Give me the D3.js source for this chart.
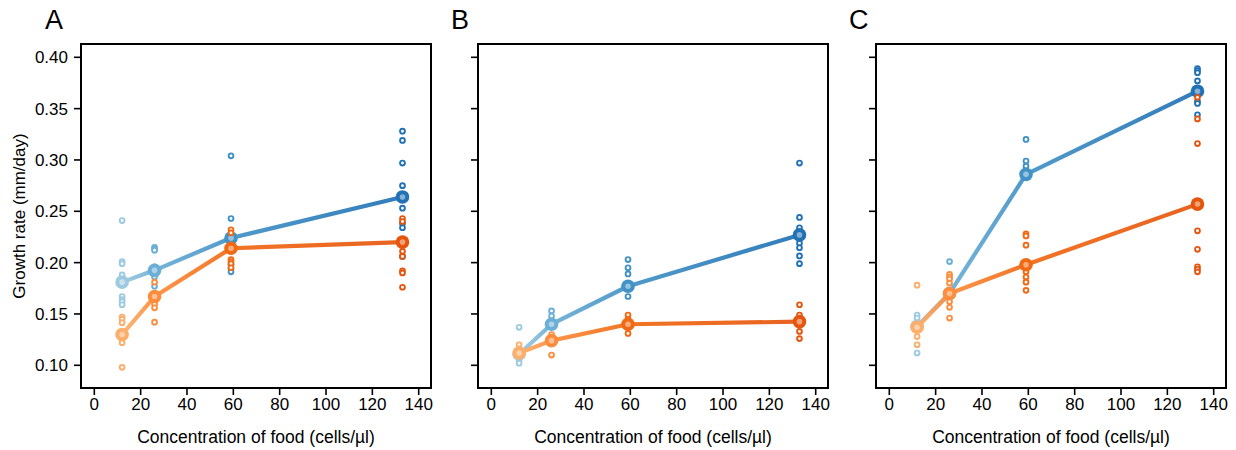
<!DOCTYPE html>
<html>
<head>
<meta charset="utf-8">
<script src="https://cdn.jsdelivr.net/npm/d3@7"></script>
<style>
  body { margin: 0; background: #fff; }
  text { font-family: "Liberation Sans", Arial, sans-serif; fill: #000; }
</style>
</head>
<body>
<div id="chart"></div>
<script>

// food concentrations (cells/ul)
var conc = [12, 26, 59, 133];

var panelNames = ["A", "B", "C"];

// individual growth rates, one list per concentration
var blueA = [[0.241, 0.201, 0.199, 0.188, 0.167, 0.164, 0.162, 0.159], [0.215, 0.2135, 0.212, 0.196, 0.186, 0.177], [0.304, 0.243, 0.198, 0.1945, 0.191], [0.328, 0.319, 0.297, 0.275, 0.253, 0.238, 0.234, 0.206]];
var orangeA = [[0.147, 0.145, 0.1415, 0.122, 0.098], [0.181, 0.162, 0.1597, 0.156, 0.142], [0.232, 0.229, 0.203, 0.201, 0.199, 0.195], [0.243, 0.240, 0.211, 0.206, 0.192, 0.190, 0.176]];
var blueMeanA = [0.181, 0.1925, 0.224, 0.264];
var orangeMeanA = [0.130, 0.167, 0.214, 0.220];

var blueB = [[0.137, 0.105, 0.102], [0.153, 0.148], [0.203, 0.195, 0.189, 0.167], [0.297, 0.244, 0.234, 0.230, 0.219, 0.2145, 0.2065, 0.199]];
var orangeB = [[0.120, 0.116], [0.130, 0.110], [0.149, 0.145, 0.137, 0.131], [0.159, 0.149, 0.133, 0.126]];
var blueMeanB = [0.111, 0.140, 0.177, 0.227];
var orangeMeanB = [0.112, 0.124, 0.140, 0.1425];

var blueC = [[0.149, 0.146, 0.112], [0.201, 0.172], [0.320, 0.299, 0.294], [0.389, 0.387, 0.385, 0.377, 0.357, 0.355, 0.344]];
var orangeC = [[0.178, 0.128, 0.120], [0.1886, 0.186, 0.184, 0.180, 0.167, 0.162, 0.1565, 0.146], [0.228, 0.226, 0.217, 0.191, 0.186, 0.181, 0.173], [0.361, 0.340, 0.316, 0.231, 0.213, 0.196, 0.1935, 0.191]];
var blueMeanC = [0.138, 0.170, 0.286, 0.367];
var orangeMeanC = [0.137, 0.170, 0.198, 0.257];

var xTicks = [0, 20, 40, 60, 80, 100, 120, 140];
var yTicks = [0.10, 0.15, 0.20, 0.25, 0.30, 0.35, 0.40];

var xTitle = "Concentration of food (cells/µl)";
var yTitle = "Growth rate (mm/day)";

// colour per concentration, light -> dark
var blues = ['#9ecae1', '#6baed6', '#4292c6', '#2171b5'];
var oranges = ['#fdae6b', '#fd8d3c', '#f16913', '#e6550d'];

var panels = [
  { name: "A", blue: blueA, orange: orangeA, blueMean: blueMeanA, orangeMean: orangeMeanA },
  { name: "B", blue: blueB, orange: orangeB, blueMean: blueMeanB, orangeMean: orangeMeanB },
  { name: "C", blue: blueC, orange: orangeC, blueMean: blueMeanC, orangeMean: orangeMeanC }
];

var width = 1236,
    height = 450,
    panelLeft = [81, 478, 876],
    letterX = [45, 451, 849],
    panelTop = 44,
    pw = 350,
    ph = 344;

var x = d3.scaleLinear().domain([0, 140]).range([13.3, 337.7]);
var y = d3.scaleLinear().domain([0.10, 0.40]).range([321.3, 13.3]);

var svg = d3.select("#chart").append("svg")
    .attr("width", width)
    .attr("height", height);

var defs = svg.append("defs");

function lighter(c, t) {
  return d3.interpolateRgb(c, "#fff")(t);
}

function drawSeries(g, pi, key, pts, means, cols) {
  var flat = [];
  pts.forEach(function(list, i) {
    list.forEach(function(v) { flat.push({ i: i, v: v }); });
  });

  g.append("g").selectAll("circle")
    .data(flat)
    .enter().append("circle")
      .attr("cx", function(d) { return x(conc[d.i]); })
      .attr("cy", function(d) { return y(d.v); })
      .attr("r", 2.4)
      .style("fill", "#fff")
      .style("stroke", function(d) { return cols[d.i]; })
      .style("stroke-width", 1.9);

  // line segments, each shaded from one concentration colour to the next
  var segs = d3.range(conc.length - 1);
  segs.forEach(function(s) {
    var id = "grad-" + pi + "-" + key + "-" + s;
    var grad = defs.append("linearGradient")
      .attr("id", id)
      .attr("gradientUnits", "userSpaceOnUse")
      .attr("x1", x(conc[s])).attr("y1", y(means[s]))
      .attr("x2", x(conc[s + 1])).attr("y2", y(means[s + 1]));
    grad.append("stop").attr("offset", "0%").attr("stop-color", cols[s]);
    grad.append("stop").attr("offset", "100%").attr("stop-color", cols[s + 1]);
  });

  g.append("g").selectAll("line")
    .data(segs)
    .enter().append("line")
      .attr("x1", function(s) { return x(conc[s]); })
      .attr("y1", function(s) { return y(means[s]); })
      .attr("x2", function(s) { return x(conc[s + 1]); })
      .attr("y2", function(s) { return y(means[s + 1]); })
      .style("stroke", function(s) { return "url(#grad-" + pi + "-" + key + "-" + s + ")"; })
      .style("stroke-width", 4.2)
      .style("stroke-opacity", 0.92);

  var mg = g.append("g").selectAll("g")
    .data(means)
    .enter().append("g")
      .attr("transform", function(d, i) { return "translate(" + x(conc[i]) + "," + y(d) + ")"; });

  mg.append("circle")
    .attr("r", 6.8)
    .style("fill", function(d, i) { return cols[i]; });

  mg.append("circle")
    .attr("r", 2.8)
    .style("fill", function(d, i) { return lighter(cols[i], 0.45); });
}

panels.forEach(function(p, pi) {
  var g = svg.append("g")
    .attr("transform", "translate(" + panelLeft[pi] + "," + panelTop + ")");

  // ticks
  g.append("g").selectAll("line")
    .data(yTicks)
    .enter().append("line")
      .attr("x1", -7).attr("x2", 0)
      .attr("y1", function(d) { return y(d); })
      .attr("y2", function(d) { return y(d); })
      .style("stroke", "#000")
      .style("stroke-width", 1.6);

  g.append("g").selectAll("line")
    .data(xTicks)
    .enter().append("line")
      .attr("y1", ph).attr("y2", ph + 7)
      .attr("x1", function(d) { return x(d); })
      .attr("x2", function(d) { return x(d); })
      .style("stroke", "#000")
      .style("stroke-width", 1.6);

  g.append("g").selectAll("text")
    .data(xTicks)
    .enter().append("text")
      .attr("x", function(d) { return x(d); })
      .attr("y", ph + 22)
      .style("text-anchor", "middle")
      .style("font-size", "17px")
      .text(function(d) { return d; });

  if (pi == 0) {
    g.append("g").selectAll("text")
      .data(yTicks)
      .enter().append("text")
        .attr("x", -13)
        .attr("y", function(d) { return y(d); })
        .attr("dy", "0.36em")
        .style("text-anchor", "end")
        .style("font-size", "17px")
        .text(function(d) { return d.toFixed(2); });

    g.append("text")
      .attr("transform", "translate(" + (25 - panelLeft[0]) + "," + (ph / 2) + ") rotate(-90)")
      .style("text-anchor", "middle")
      .style("font-size", "17px")
      .text(yTitle);
  }

  g.append("text")
    .attr("x", pw / 2)
    .attr("y", ph + 55)
    .style("text-anchor", "middle")
    .style("font-size", "17.5px")
    .text(xTitle);

  drawSeries(g, pi, "b", p.blue, p.blueMean, blues);
  drawSeries(g, pi, "o", p.orange, p.orangeMean, oranges);

  // frame
  g.append("rect")
    .attr("width", pw)
    .attr("height", ph)
    .style("fill", "none")
    .style("stroke", "#000")
    .style("stroke-width", 2);

  svg.append("text")
    .attr("x", letterX[pi])
    .attr("y", 29)
    .style("font-size", "27px")
    .text(panelNames[pi]);
});

</script>
</body>
</html>
